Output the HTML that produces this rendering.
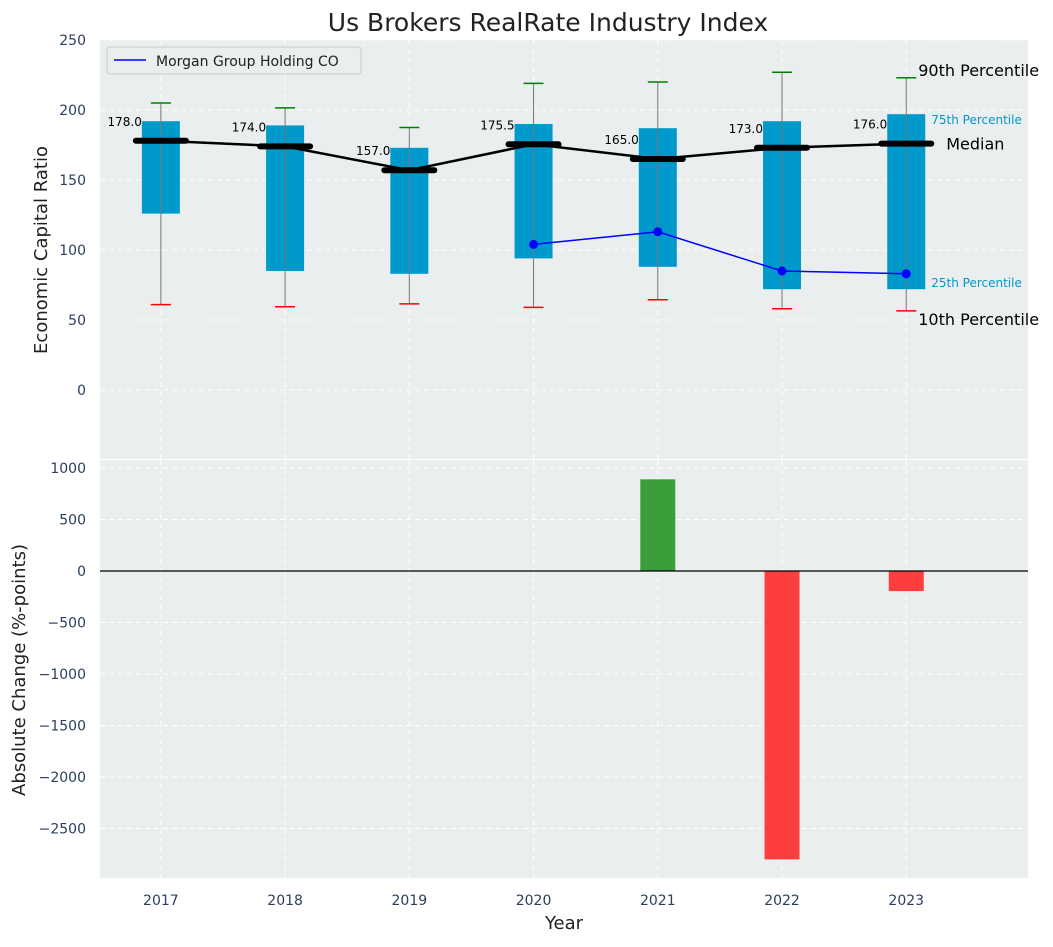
<!DOCTYPE html>
<html><head><meta charset="utf-8"><style>
body{margin:0;background:#fff;font-family:"Liberation Sans","DejaVu Sans",sans-serif}
svg text{font-family:"DejaVu Sans","Liberation Sans",sans-serif}
</style></head><body>
<svg id="chart" width="1053" height="942" xmlns="http://www.w3.org/2000/svg"></svg>
<script>
const years=[2017,2018,2019,2020,2021,2022,2023];
const p10=[61,59.5,61.5,59,64.5,58,56.5];
const q1=[126,85,83,94,88,72,72];
const median=[178,174,157,175.5,165,173,176];
const q3=[192,189,173,190,187,192,197];
const p90=[205,201.5,187.5,219,220,227,223];
const companyYears=[2020,2021,2022,2023];
const companyVals=[104,113,85,83];
const changeYears=[2021,2022,2023];
const changeVals=[890,-2800,-195];
const topTicks=[0,50,100,150,200,250];
const botTicks=[1000,500,0,-500,-1000,-1500,-2000,-2500];

const svg=document.getElementById('chart');
const NS='http://www.w3.org/2000/svg';
function el(tag,attrs,parent,text){const e=document.createElementNS(NS,tag);for(const k in attrs)e.setAttribute(k,attrs[k]);if(text!==undefined)e.textContent=text;(parent||svg).appendChild(e);return e;}
const L=100,R=1028;
const x=v=>L+(v-2016.51)/(2023.98-2016.51)*(R-L);
const yT=v=>390-v*1.4;
const yB=v=>571-v*0.103;

let e;
e=el('text',{x:548,y:31,'font-size':25,'text-anchor':'middle',fill:'#222'},svg,'Us Brokers RealRate Industry Index');


e=el('rect',{x:L,y:40,width:R-L,height:419,fill:'#eaeeee'});

topTicks.forEach(t=>{
  el('line',{x1:L,x2:R,y1:yT(t),y2:yT(t),stroke:'#fff','stroke-dasharray':'5,4','stroke-width':1});
  e=el('text',{x:86,y:yT(t)+5,'font-size':14,'text-anchor':'end',fill:'#2a3f5f'},svg,t);
  
});
years.forEach(yr=>el('line',{x1:x(yr),x2:x(yr),y1:40,y2:459,stroke:'#fff','stroke-dasharray':'5,4'}));
e=el('text',{x:47,y:250,'font-size':18,'text-anchor':'middle',fill:'#222',transform:'rotate(-90 47 250)'},svg,'Economic Capital Ratio');


years.forEach((yr,i)=>{
  const cx=x(yr);
  e=el('rect',{x:cx-19,y:yT(q3[i]),width:38,height:yT(q1[i])-yT(q3[i]),fill:'#0099cc'});
  
  el('line',{x1:cx,x2:cx,y1:yT(p10[i]),y2:yT(p90[i]),stroke:'#777','stroke-width':1});
  el('line',{x1:cx-10,x2:cx+10,y1:yT(p90[i]),y2:yT(p90[i]),stroke:'green','stroke-width':1.5});
  el('line',{x1:cx-10,x2:cx+10,y1:yT(p10[i]),y2:yT(p10[i]),stroke:'red','stroke-width':1.5});
});
e=el('polyline',{points:years.map((yr,i)=>x(yr)+','+yT(median[i])).join(' '),fill:'none',stroke:'#000','stroke-width':2.5});

years.forEach((yr,i)=>{
  const cx=x(yr);
  e=el('line',{x1:cx-25,x2:cx+25,y1:yT(median[i]),y2:yT(median[i]),stroke:'#000','stroke-width':6,'stroke-linecap':'round'});
  
  e=el('text',{x:cx-19,y:yT(median[i])-15,'font-size':12,'text-anchor':'end',fill:'#000'},svg,median[i].toFixed(1));
  
});
e=el('polyline',{points:companyYears.map((yr,i)=>x(yr)+','+yT(companyVals[i])).join(' '),fill:'none',stroke:'blue','stroke-width':1.5});

companyYears.forEach((yr,i)=>{e=el('circle',{cx:x(yr),cy:yT(companyVals[i]),r:4.5,fill:'blue'});});
const last=years.length-1,lx=x(2023)+12;
el('text',{x:lx,y:yT(p90[last])-2,'font-size':16,fill:'#000'},svg,'90th Percentile');
el('text',{x:lx+13,y:yT(q3[last])+10,'font-size':12,fill:'#0099cc'},svg,'75th Percentile');
el('text',{x:lx+28,y:yT(median[last])+6,'font-size':16,fill:'#000'},svg,'Median');
el('text',{x:lx+13,y:yT(q1[last])-2,'font-size':12,fill:'#0099cc'},svg,'25th Percentile');
el('text',{x:lx,y:yT(p10[last])+14,'font-size':16,fill:'#000'},svg,'10th Percentile');
e=el('g',{});
el('rect',{x:107,y:47,width:254,height:27,rx:3,fill:'#eaeeee',stroke:'#ccc'},e);
el('line',{x1:114,x2:146,y1:60,y2:60,stroke:'blue','stroke-width':1.5},e);
el('text',{x:156,y:66,'font-size':14,fill:'#222'},e,'Morgan Group Holding CO');

e=el('rect',{x:L,y:460,width:R-L,height:418,fill:'#eaeeee'});

botTicks.forEach(t=>{
  el('line',{x1:L,x2:R,y1:yB(t),y2:yB(t),stroke:'#fff','stroke-dasharray':'5,4'});
  e=el('text',{x:86,y:yB(t)+5,'font-size':14,'text-anchor':'end',fill:'#2a3f5f'},svg,t<0?'−'+Math.abs(t):t);
  
});
years.forEach(yr=>{
  el('line',{x1:x(yr),x2:x(yr),y1:460,y2:878,stroke:'#fff','stroke-dasharray':'5,4'});
  e=el('text',{x:x(yr),y:905,'font-size':14,'text-anchor':'middle',fill:'#2a3f5f'},svg,yr);
  
});
changeYears.forEach((yr,i)=>{
  const v=changeVals[i];
  e=el('rect',{x:x(yr)-17.5,y:Math.min(yB(v),yB(0)),width:35,height:Math.abs(yB(v)-yB(0)),fill:v>=0?'#3a9e3a':'#fd3e3e'});
  
});
el('line',{x1:L,x2:R,y1:yB(0),y2:yB(0),stroke:'#000','stroke-width':1.2});
e=el('text',{x:25,y:670,'font-size':18,'text-anchor':'middle',fill:'#222',transform:'rotate(-90 25 670)'},svg,'Absolute Change (%-points)');

e=el('text',{x:564,y:929,'font-size':18,'text-anchor':'middle',fill:'#222'},svg,'Year');

</script>
</body></html>
